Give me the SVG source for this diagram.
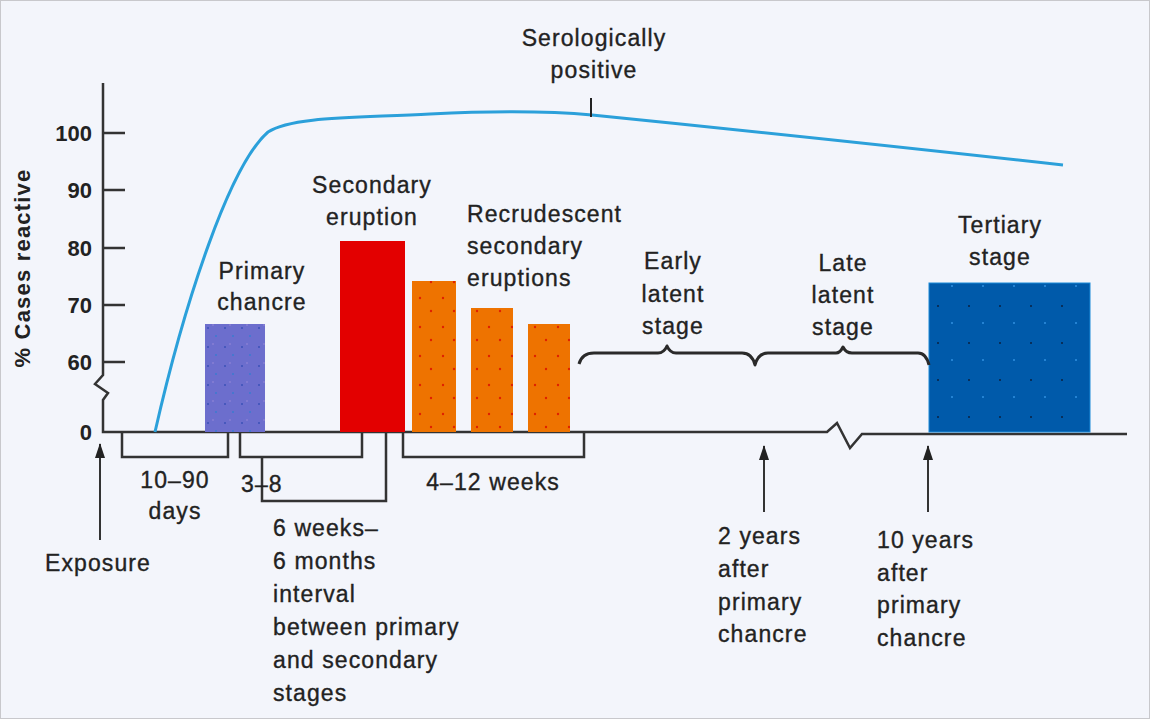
<svg xmlns="http://www.w3.org/2000/svg" width="1150" height="719" viewBox="0 0 1150 719">
<style>
.t{font-family:"Liberation Sans",Arial,sans-serif;font-size:23px;fill:#222;stroke:#222;stroke-width:0.35;letter-spacing:1.1px}
.c{text-anchor:middle}
.ax{font-family:"Liberation Sans",Arial,sans-serif;font-size:22px;font-weight:bold;fill:#222;text-anchor:end}
.ln{fill:none;stroke:#333;stroke-width:2.5}
.br{fill:none;stroke:#2a2a2a;stroke-width:3;stroke-linejoin:round}
.ar{stroke:#333;stroke-width:2}
</style>
<defs>
<pattern id="pP" width="17" height="19" patternUnits="userSpaceOnUse"><rect width="17" height="19" fill="#6c6ecd"/><circle cx="4" cy="5" r="1" fill="#3a50b8"/><circle cx="12" cy="13" r="1" fill="#3a7ad0"/><circle cx="9" cy="2" r="0.8" fill="#9a8ad8"/></pattern>
<pattern id="pO" width="23" height="29" patternUnits="userSpaceOnUse"><rect width="23" height="29" fill="#ee7300"/><circle cx="6" cy="8" r="1.2" fill="#e02000"/><circle cx="17" cy="21" r="1.2" fill="#e02000"/></pattern>
<pattern id="pT" width="31" height="37" patternUnits="userSpaceOnUse"><rect width="31" height="37" fill="#005aaa"/><circle cx="8" cy="10" r="1" fill="#0a2040"/><circle cx="22" cy="27" r="1" fill="#3090e0"/></pattern>
<marker id="ah" viewBox="0 0 15 10" refX="14" refY="5" markerWidth="7.5" markerHeight="5" orient="auto"><path d="M0,0 L15,5 L0,10 z" fill="#222"/></marker>
</defs>
<rect width="1150" height="719" fill="#f3f5fb"/>
<rect x="0.5" y="0.5" width="1149" height="718" fill="none" stroke="#c8c8cc"/>

<g id="axes">
<path class="ln" d="M103,83 V375 L95,384 L108,393 L103,400 V432 H827 L837,423 L850,448 L862,434 H1127"/>
<path class="ln" d="M103,133 H125 M103,190 H125 M103,248 H125 M103,305 H125 M103,362 H125"/>
<text class="ax" x="92" y="141">100</text>
<text class="ax" x="92" y="198">90</text>
<text class="ax" x="92" y="256">80</text>
<text class="ax" x="92" y="313">70</text>
<text class="ax" x="92" y="370">60</text>
<text class="ax" x="92" y="440">0</text>
<text x="0" y="0" transform="translate(30,268) rotate(-90)" style="font-family:'Liberation Sans',Arial,sans-serif;font-size:22px;font-weight:bold;fill:#222;letter-spacing:1.2px" text-anchor="middle">% Cases reactive</text>
</g>

<g id="curve">
<path d="M155,432 C185,300 230,165 268,132 C292,116 360,118 430,114 C510,110 560,112 592,115 Q820,138 1063,165" fill="none" stroke="#2ba0da" stroke-width="3"/>
<line x1="591" y1="98" x2="591" y2="117" stroke="#222" stroke-width="2"/>
<text class="t c" x="594" y="46">Serologically</text>
<text class="t c" x="594" y="78">positive</text>
</g>

<g id="primary">
<rect x="205" y="324" width="60" height="108" fill="url(#pP)"/>
<text class="t c" x="262" y="279">Primary</text>
<text class="t c" x="262" y="310">chancre</text>
</g>

<g id="secondary">
<rect x="340" y="241" width="65" height="191" fill="#e30000"/>
<text class="t c" x="372" y="193">Secondary</text>
<text class="t c" x="372" y="225">eruption</text>
</g>

<g id="recrudescent">
<rect x="412" y="281" width="44" height="151" fill="url(#pO)"/>
<rect x="471" y="308" width="42" height="124" fill="url(#pO)"/>
<rect x="528" y="324" width="42" height="108" fill="url(#pO)"/>
<text class="t" x="467" y="222">Recrudescent</text>
<text class="t" x="467" y="254">secondary</text>
<text class="t" x="467" y="286">eruptions</text>
</g>

<g id="early-latent">
<text class="t c" x="673" y="269">Early</text>
<text class="t c" x="673" y="302">latent</text>
<text class="t c" x="673" y="334">stage</text>
</g>

<g id="late-latent">
<text class="t c" x="843" y="271">Late</text>
<text class="t c" x="843" y="303">latent</text>
<text class="t c" x="843" y="335">stage</text>
</g>

<g id="tertiary">
<rect x="929" y="283" width="161" height="149" fill="url(#pT)" stroke="#1a8ad8" stroke-width="1"/>
<text class="t c" x="1000" y="233">Tertiary</text>
<text class="t c" x="1000" y="265">stage</text>
</g>

<g id="connectors">
<path class="br" d="M579,364 Q582,353 594,353 H658 Q664,353 667,346 Q670,353 676,353 H742 Q752,353 755,365 Q758,353 768,353 H836 Q840,353 843,347 Q846,353 852,353 H918 Q926,353 929,365"/>
<path class="ln" d="M122,432 V457 H228 V432"/>
<path class="ln" d="M240,432 V457 H362 V432"/>
<path class="ln" d="M262,457 V501 H386 V432"/>
<path class="ln" d="M403,432 V457 H584 V432"/>
<line class="ar" x1="100" y1="540" x2="100" y2="444" marker-end="url(#ah)"/>
<line class="ar" x1="764" y1="512" x2="764" y2="446" marker-end="url(#ah)"/>
<line class="ar" x1="928" y1="512" x2="928" y2="446" marker-end="url(#ah)"/>
</g>

<g id="labels">
<text class="t c" x="175" y="488">10–90</text>
<text class="t c" x="175" y="519">days</text>
<text class="t" x="241" y="492">3–8</text>
<text class="t c" x="493" y="490">4–12 weeks</text>
<text class="t" x="273" y="536">6 weeks–</text>
<text class="t" x="273" y="569">6 months</text>
<text class="t" x="273" y="602">interval</text>
<text class="t" x="273" y="635">between primary</text>
<text class="t" x="273" y="668">and secondary</text>
<text class="t" x="273" y="701">stages</text>
<text class="t" x="45" y="571">Exposure</text>
<text class="t" x="718" y="544">2 years</text>
<text class="t" x="718" y="577">after</text>
<text class="t" x="718" y="610">primary</text>
<text class="t" x="718" y="642">chancre</text>
<text class="t" x="877" y="548">10 years</text>
<text class="t" x="877" y="581">after</text>
<text class="t" x="877" y="613">primary</text>
<text class="t" x="877" y="646">chancre</text>
</g>
</svg>
